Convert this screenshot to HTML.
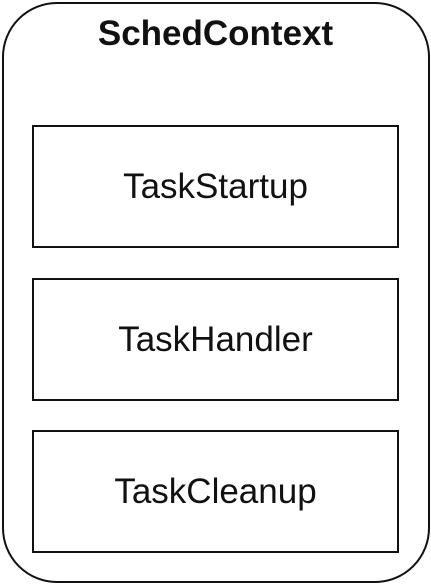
<!DOCTYPE html>
<html><head><style>
body{margin:0;width:431px;height:585px;background:#fff;position:relative;font-family:"Liberation Sans",sans-serif;overflow:hidden}
.outer{position:absolute;left:2px;top:2px;width:424px;height:577px;border:2px solid #111;border-radius:55px;box-sizing:content-box}
.t{position:absolute;left:0;width:431px;top:14px;text-align:center;font-weight:bold;font-size:35px;line-height:40px;color:#111}
.b{position:absolute;left:32px;width:367px;height:123px;border:2px solid #111;box-sizing:border-box;display:flex;align-items:center;justify-content:center;font-size:35px;color:#111}
</style></head><body>
<div class="outer"></div>
<div class="t">SchedContext</div>
<div class="b" style="top:125px">TaskStartup</div>
<div class="b" style="top:278px">TaskHandler</div>
<div class="b" style="top:430px">TaskCleanup</div>
</body></html>
